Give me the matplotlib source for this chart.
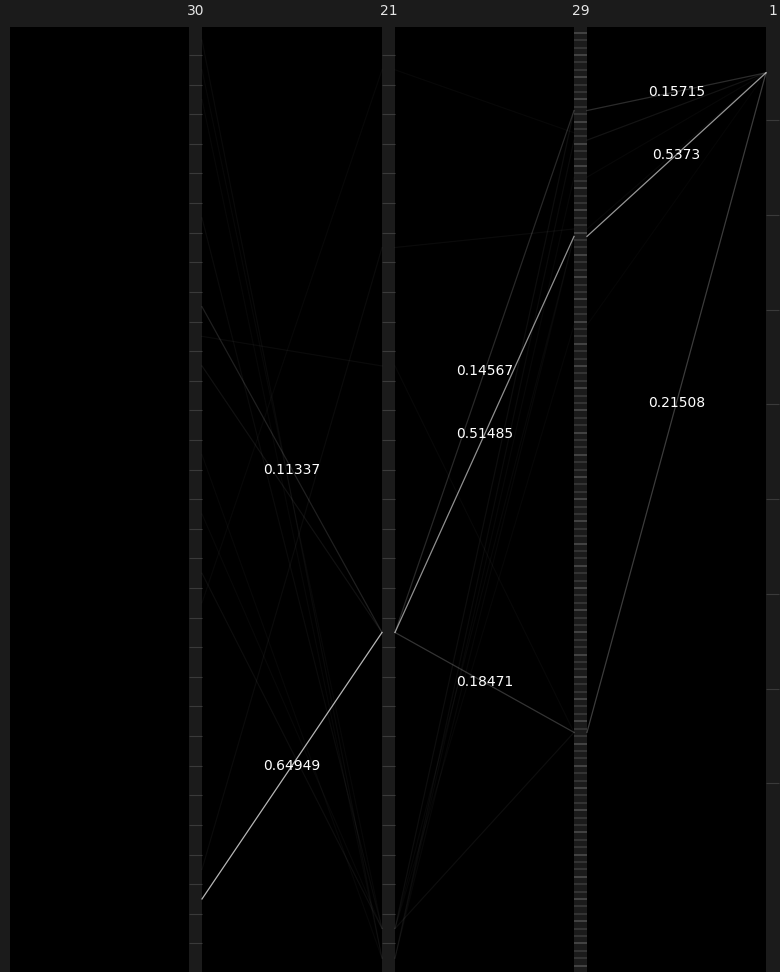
import matplotlib
matplotlib.use("Agg")
import matplotlib.pyplot as plt
from matplotlib.patches import Rectangle

# axes of the parallel-sets view (name, number of categories)
axis_names = ["30", "21", "29", "1"]
axis_sizes = [32, 32, 128, 10]
# category boundaries that carry a tick mark on each axis
axis_ticks = [list(range(1, 32)), list(range(1, 32)), list(range(1, 128)), list(range(1, 9))]

# links between axis "30" and axis "21"
src_30_21 = [29, 9, 11, 10, 28, 18, 16, 14, 6, 1, 0, 2, 19]
dst_30_21 = [20, 20, 20, 11, 7, 30, 30, 31, 30, 30, 31, 31, 1]
w_30_21 = [0.64949, 0.11337, 0.06, 0.04, 0.04, 0.045, 0.03, 0.03, 0.04, 0.03, 0.035, 0.03, 0.03]

# links between axis "21" and axis "29"
src_21_29 = [20, 20, 20, 30, 1, 7, 11, 30, 31, 30, 31, 31, 30]
dst_21_29 = [11, 28, 95, 95, 14, 27, 95, 11, 15, 28, 20, 28, 40]
w_21_29 = [0.14567, 0.51485, 0.18471, 0.05, 0.03, 0.04, 0.03, 0.05, 0.04, 0.03, 0.03, 0.03, 0.025]

# links between axis "29" and axis "1"
src_29_1 = [11, 28, 95, 15, 20, 27, 40]
dst_29_1 = [0, 0, 0, 0, 0, 0, 0]
w_29_1 = [0.15715, 0.5373, 0.21508, 0.07, 0.03, 0.03, 0.02]

links = [(src_30_21, dst_30_21, w_30_21),
         (src_21_29, dst_21_29, w_21_29),
         (src_29_1, dst_29_1, w_29_1)]

# layout (pixels)
W, H = 780, 972
top_px, span_px = 25.4, 947.6
panel_left = [10, 202, 395, 587]
bar_left = [189, 382, 574, 766]
bar_w = 13
label_min = 0.1

fig = plt.figure(figsize=(W / 100, H / 100), dpi=100)
fig.patch.set_facecolor("#1b1b1b")
ax = fig.add_axes([0, 0, 1, 1])
ax.set_facecolor("#1b1b1b")
ax.set_xlim(0, W)
# y runs in axis fraction: 0 = top of the category range, 1 = bottom
ax.set_ylim((H - top_px) / span_px, -top_px / span_px)
ax.axis("off")

# black panels
for pl, bl in zip(panel_left, bar_left):
    ax.add_patch(Rectangle((pl, 1.6 / span_px), bl - pl, 1.2, facecolor="black",
                           edgecolor="none", zorder=0))

# axis bars with their category ticks
for i, (bl, n, ticks) in enumerate(zip(bar_left, axis_sizes, axis_ticks)):
    for j, k in enumerate(ticks):
        c, lw = "#3a3a3a", 0.8
        if n > 64:
            c, lw = ("#4a4a4a" if j % 3 == 0 else "#383838"), 1.2
        ax.plot([bl, bl + bar_w], [k / n, k / n], color=c, lw=lw,
                solid_capstyle="butt", zorder=1)
    ax.text(bl + bar_w / 2, 1 - 11 / H, axis_names[i], transform=ax.get_xaxis_transform(),
            color="#e6e6e6", fontsize=10, ha="center", va="center")

# links, brightness by weight; strong links carry their value
for i, (src, dst, w) in enumerate(links):
    x0 = bar_left[i] + bar_w
    x1 = bar_left[i + 1]
    n0, n1 = axis_sizes[i], axis_sizes[i + 1]
    order = sorted(range(len(w)), key=lambda j: w[j])
    for j in order:
        y0 = (src[j] + 0.5) / n0
        y1 = (dst[j] + 0.5) / n1
        ax.plot([x0, x1], [y0, y1], color="white", alpha=min(1.0, w[j] * 1.1), lw=0.9, zorder=2)
    for j in order:
        if w[j] > label_min:
            y0 = (src[j] + 0.5) / n0
            y1 = (dst[j] + 0.5) / n1
            ax.text((x0 + x1) / 2, (y0 + y1) / 2, f"{w[j]:g}", color="white",
                    fontsize=10, ha="center", va="center", zorder=3)

fig.savefig("out.png", dpi=100, facecolor=fig.get_facecolor())
